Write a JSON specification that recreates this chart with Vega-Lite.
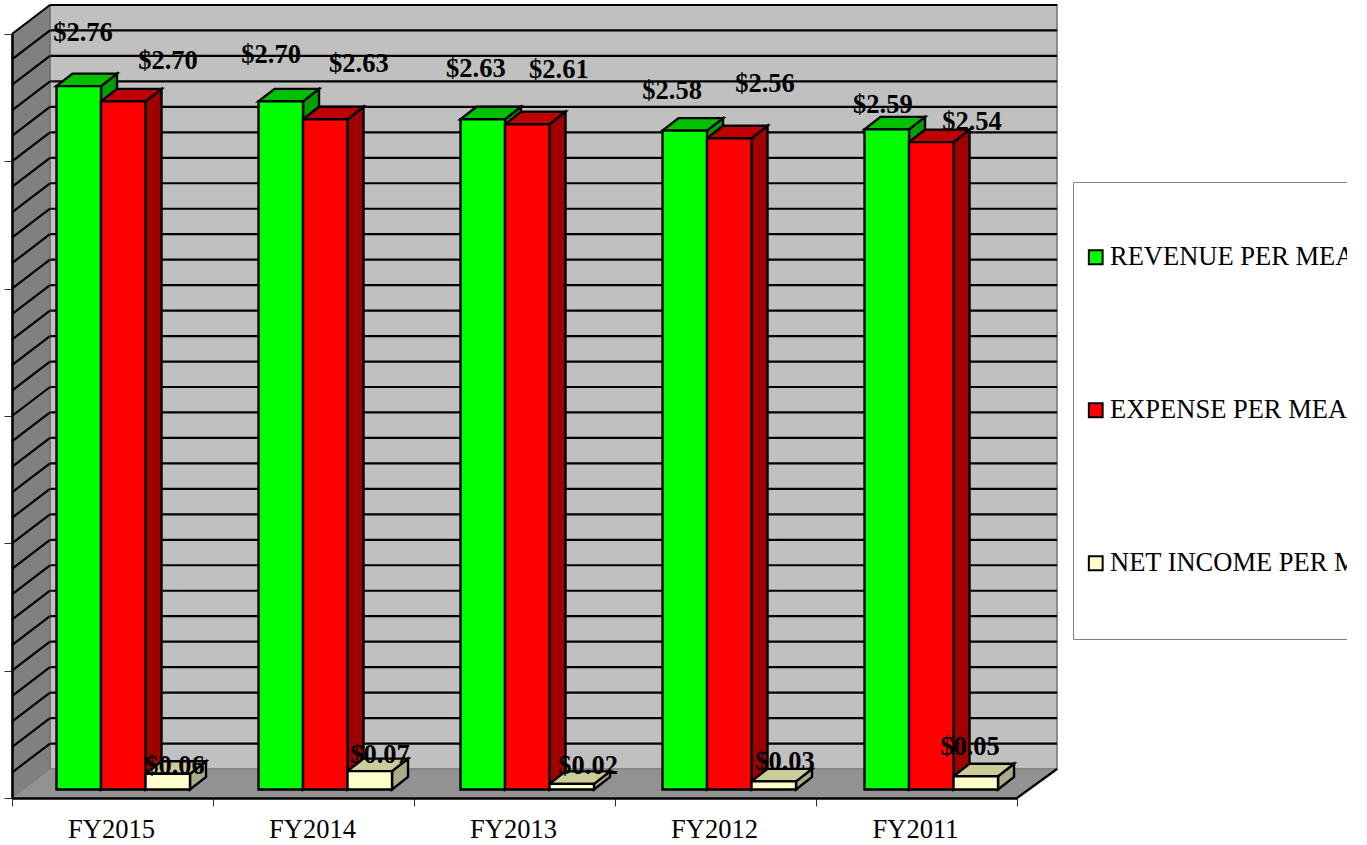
{"$schema":"https://vega.github.io/schema/vega-lite/v6.json","width":1005,"height":764,"autosize":{"type":"none"},"padding":{"left":12,"top":34,"right":330,"bottom":47},"background":"white","config":{"view":{"stroke":null},"font":"Liberation Serif","axis":{"title":null,"grid":false}},"datasets":{"bars":[{"year":"FY2015","series":"REVENUE PER MEAL","value":2.76},{"year":"FY2015","series":"EXPENSE PER MEAL","value":2.70},{"year":"FY2015","series":"NET INCOME PER MEAL","value":0.06},{"year":"FY2014","series":"REVENUE PER MEAL","value":2.70},{"year":"FY2014","series":"EXPENSE PER MEAL","value":2.63},{"year":"FY2014","series":"NET INCOME PER MEAL","value":0.07},{"year":"FY2013","series":"REVENUE PER MEAL","value":2.63},{"year":"FY2013","series":"EXPENSE PER MEAL","value":2.61},{"year":"FY2013","series":"NET INCOME PER MEAL","value":0.02},{"year":"FY2012","series":"REVENUE PER MEAL","value":2.585},{"year":"FY2012","series":"EXPENSE PER MEAL","value":2.555},{"year":"FY2012","series":"NET INCOME PER MEAL","value":0.03},{"year":"FY2011","series":"REVENUE PER MEAL","value":2.59},{"year":"FY2011","series":"EXPENSE PER MEAL","value":2.54},{"year":"FY2011","series":"NET INCOME PER MEAL","value":0.05}],"grid":[{"g":0.1},{"g":0.2},{"g":0.3},{"g":0.4},{"g":0.5},{"g":0.6},{"g":0.7},{"g":0.8},{"g":0.9},{"g":1.0},{"g":1.1},{"g":1.2},{"g":1.3},{"g":1.4},{"g":1.5},{"g":1.6},{"g":1.7},{"g":1.8},{"g":1.9},{"g":2.0},{"g":2.1},{"g":2.2},{"g":2.3},{"g":2.4},{"g":2.5},{"g":2.6},{"g":2.7},{"g":2.8},{"g":2.9},{"g":3.0}],"labels":[{"t":"$2.76","lx":0.353,"ly":3.008},{"t":"$2.70","lx":0.776,"ly":2.898},{"t":"$0.06","lx":0.811,"ly":0.130},{"t":"$2.70","lx":1.289,"ly":2.921},{"t":"$2.63","lx":1.726,"ly":2.886},{"t":"$0.07","lx":1.831,"ly":0.173},{"t":"$2.63","lx":2.308,"ly":2.866},{"t":"$2.61","lx":2.721,"ly":2.863},{"t":"$0.02","lx":2.866,"ly":0.130},{"t":"$2.58","lx":3.284,"ly":2.780},{"t":"$2.56","lx":3.746,"ly":2.808},{"t":"$0.03","lx":3.846,"ly":0.145},{"t":"$2.59","lx":4.333,"ly":2.725},{"t":"$2.54","lx":4.776,"ly":2.658},{"t":"$0.05","lx":4.766,"ly":0.204}]},"data":{"name":"bars"},"resolve":{"scale":{"color":"independent"}},"layer":[{"mark":{"type":"rect","fill":"#C0C0C0","stroke":"#8c8c8c","strokeWidth":2},"data":{"values":[{"a":1}]},"encoding":{"x":{"datum":0.189,"type":"quantitative","scale":{"domain":[0,5],"nice":false,"zero":false},"axis":{"values":[0,0.5,1,1.5,2,2.5,3,3.5,4,4.5,5],"labelExpr":"datum.value%1?['FY2015','FY2014','FY2013','FY2012','FY2011'][floor(datum.value)]:''","title":null,"grid":false,"zindex":1,"domainColor":"black","domainWidth":2.5,"tickColor":"#333333","tickWidth":1,"tickSize":8,"tickOpacity":{"condition":{"test":"datum.value%1","value":0},"value":1},"labelFont":"Liberation Serif","labelFontSize":26.5,"labelColor":"black","labelPadding":10,"labelOffset":-1.5,"labelOverlap":false,"labelFlush":false}},"x2":{"datum":5.199},"y":{"datum":0.1139,"type":"quantitative","scale":{"domain":[0,3],"nice":false,"zero":false},"axis":{"values":[0,0.5,1,1.5,2,2.5,3],"labels":false,"title":null,"grid":false,"zindex":1,"domainColor":"black","domainWidth":2.5,"tickColor":"#333333","tickWidth":1,"tickSize":8}},"y2":{"datum":3.114}}},{"mark":{"type":"rule","color":"black","strokeWidth":2.2,"yOffset":-29},"data":{"name":"grid"},"encoding":{"x":{"datum":0.189,"type":"quantitative"},"x2":{"datum":5.199},"y":{"field":"g","type":"quantitative"}}},{"mark":{"type":"area","fill":"#808080","stroke":"#666666","strokeWidth":1},"data":{"values":[{"sx":0,"lo":0,"hi":3},{"sx":0.189,"lo":0.1139,"hi":3.114}]},"encoding":{"x":{"field":"sx","type":"quantitative"},"y":{"field":"lo","type":"quantitative"},"y2":{"field":"hi"}}},{"mark":{"type":"area","orient":"horizontal","fill":"#929292","stroke":"#808080","strokeWidth":1},"data":{"values":[{"fy":0,"xa":0,"xb":5},{"fy":0.1139,"xa":0.189,"xb":5.199}]},"encoding":{"y":{"field":"fy","type":"quantitative"},"x":{"field":"xa","type":"quantitative"},"x2":{"field":"xb"}}},{"mark":{"type":"rule","color":"black","strokeWidth":2.2,"y2Offset":-29},"data":{"name":"grid"},"encoding":{"x":{"datum":0,"type":"quantitative"},"x2":{"datum":0.189},"y":{"field":"g","type":"quantitative"},"y2":{"field":"g"}}},{"mark":{"type":"rule","color":"black","strokeWidth":2.2},"data":{"values":[{"a":1}]},"encoding":{"x":{"datum":5,"type":"quantitative"},"x2":{"datum":5.199},"y":{"datum":0,"type":"quantitative"},"y2":{"datum":0.1139}}},{"mark":{"type":"area","stroke":"black","strokeWidth":2.4},"transform":[{"calculate":"indexof(['FY2015','FY2014','FY2013','FY2012','FY2011'],datum.year)*1.005+0.2214+indexof(['REVENUE PER MEAL','EXPENSE PER MEAL','NET INCOME PER MEAL'],datum.series)*0.2214","as":"left"},{"calculate":"[0,1]","as":"pt"},{"flatten":["pt"]},{"calculate":"datum.left+0.2214+datum.pt*0.0796","as":"sx"},{"calculate":"datum.value+0.0354+datum.pt*0.0491","as":"sy"},{"calculate":"0.0334+datum.pt*0.0491","as":"sy2"},{"calculate":"datum.year+datum.series","as":"key"}],"encoding":{"x":{"field":"sx","type":"quantitative"},"y":{"field":"sy","type":"quantitative"},"y2":{"field":"sy2"},"detail":{"field":"key"},"color":{"field":"series","type":"nominal","legend":null,"scale":{"domain":["REVENUE PER MEAL","EXPENSE PER MEAL","NET INCOME PER MEAL"],"range":["#00A000","#A00000","#ABAB8A"]}}}},{"mark":{"type":"area","orient":"horizontal","stroke":"black","strokeWidth":2.4},"transform":[{"calculate":"indexof(['FY2015','FY2014','FY2013','FY2012','FY2011'],datum.year)*1.005+0.2214+indexof(['REVENUE PER MEAL','EXPENSE PER MEAL','NET INCOME PER MEAL'],datum.series)*0.2214","as":"left"},{"calculate":"[0,1]","as":"pt"},{"flatten":["pt"]},{"calculate":"datum.left+datum.pt*0.0796","as":"tx"},{"calculate":"datum.left+0.2214+datum.pt*0.0796","as":"tx2"},{"calculate":"datum.value+0.0354+datum.pt*0.0491","as":"ty"},{"calculate":"datum.year+datum.series","as":"key"}],"encoding":{"x":{"field":"tx","type":"quantitative"},"x2":{"field":"tx2"},"y":{"field":"ty","type":"quantitative"},"detail":{"field":"key"},"color":{"field":"series","type":"nominal","legend":null,"scale":{"domain":["REVENUE PER MEAL","EXPENSE PER MEAL","NET INCOME PER MEAL"],"range":["#00C000","#C00000","#CCCC99"]}}}},{"mark":{"type":"rect","stroke":"black","strokeWidth":2.4},"transform":[{"calculate":"indexof(['FY2015','FY2014','FY2013','FY2012','FY2011'],datum.year)*1.005+0.2214+indexof(['REVENUE PER MEAL','EXPENSE PER MEAL','NET INCOME PER MEAL'],datum.series)*0.2214","as":"left"},{"calculate":"datum.left+0.2214","as":"right"},{"calculate":"datum.value+0.0354","as":"top"},{"calculate":"0.0334","as":"base"}],"encoding":{"x":{"field":"left","type":"quantitative"},"x2":{"field":"right"},"y":{"field":"top","type":"quantitative"},"y2":{"field":"base"},"color":{"field":"series","type":"nominal","scale":{"domain":["REVENUE PER MEAL","EXPENSE PER MEAL","NET INCOME PER MEAL"],"range":["#00FF00","#FF0000","#FFFFCC"]},"legend":{"orient":"none","legendX":1061,"legendY":148,"title":null,"padding":62,"strokeColor":"#808080","fillColor":"white","symbolType":"square","symbolSize":190,"symbolStrokeColor":"black","symbolStrokeWidth":2,"symbolOffset":-52.5,"labelOffset":1,"rowPadding":126,"labelFont":"Liberation Serif","labelFontSize":26.5,"labelColor":"black","labelLimit":1000}}}},{"mark":{"type":"text","font":"Liberation Serif","fontWeight":"bold","fontSize":26.5,"color":"black","align":"center","baseline":"middle","dy":1},"data":{"name":"labels"},"encoding":{"x":{"field":"lx","type":"quantitative"},"y":{"field":"ly","type":"quantitative"},"text":{"field":"t"}}}]}
